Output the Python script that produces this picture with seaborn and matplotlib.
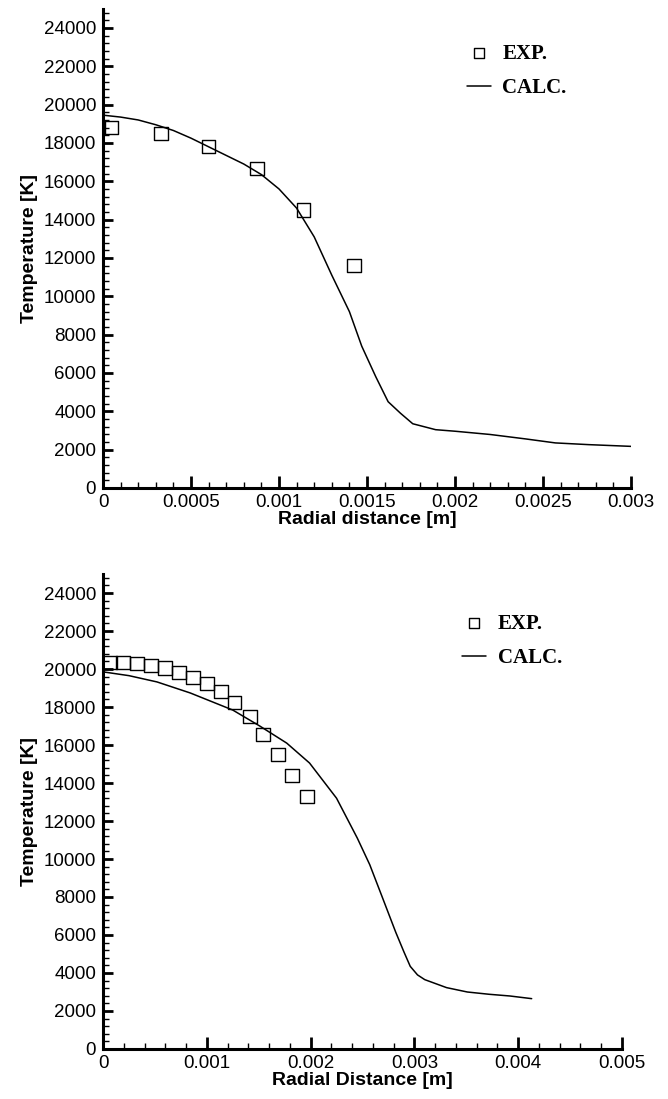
import matplotlib
matplotlib.use("Agg")
import matplotlib.pyplot as plt
from matplotlib.ticker import MultipleLocator, AutoMinorLocator, FuncFormatter
import seaborn as sns

# ---- data ----
# upper panel
exp1_r = [0.00005, 0.00033, 0.00060, 0.000875, 0.00114, 0.001426]
exp1_t = [18800, 18500, 17800, 16650, 14500, 11600]
calc1_r = [0.0, 0.0001, 0.0002, 0.0003, 0.0004, 0.0005, 0.0006, 0.0007, 0.0008,
           0.0009, 0.0010, 0.0011, 0.0012, 0.0013, 0.0014, 0.00147, 0.00155,
           0.00162, 0.00169, 0.00176, 0.00189, 0.0020, 0.0022, 0.0024, 0.00257,
           0.00276, 0.0030]
calc1_t = [19450, 19350, 19200, 18950, 18650, 18250, 17800, 17350, 16900,
           16350, 15600, 14600, 13100, 11100, 9200, 7400, 5800,
           4500, 3900, 3350, 3040, 2960, 2790, 2560, 2350,
           2260, 2170]

# lower panel
exp2_r = [0.000067, 0.000193, 0.000328, 0.000462, 0.000597, 0.000732, 0.000867,
          0.001002, 0.001137, 0.00127, 0.001416, 0.00154, 0.001686, 0.00182,
          0.001965]
exp2_t = [20350, 20350, 20300, 20200, 20050, 19800, 19550, 19250, 18800, 18250,
          17500, 16550, 15500, 14400, 13300]
calc2_r = [0.0, 0.00025, 0.00052, 0.00084, 0.00125, 0.00151, 0.00177, 0.00199,
           0.00225, 0.00245, 0.00257, 0.00269, 0.00282, 0.0029, 0.00296, 0.00303,
           0.0031, 0.00331, 0.00351, 0.00372, 0.00392, 0.00413]
calc2_t = [19850, 19650, 19320, 18740, 17840, 17000, 16100, 15050,
           13200, 11100, 9700, 8000, 6150, 5100, 4350, 3900,
           3650, 3230, 3000, 2880, 2790, 2650]

xlabels = ["Radial distance [m]", "Radial Distance [m]"]
ylabel = "Temperature [K]"
legend_labels = ["EXP.", "CALC."]

sns.set_theme(style="ticks")
plt.rcParams['font.family'] = ['Liberation Sans', 'DejaVu Sans']
plt.rcParams['axes.linewidth'] = 2.2
plt.rcParams['text.color'] = 'black'
plt.rcParams['axes.labelcolor'] = 'black'

fig = plt.figure(figsize=(6.68, 10.99), dpi=100)
ax1 = fig.add_axes([0.1542, 0.5560, 0.7904, 0.4360])
ax2 = fig.add_axes([0.1542, 0.0455, 0.7769, 0.4322])

panels = [
    (ax1, exp1_r, exp1_t, calc1_r, calc1_t, 0.003, 0.0005, xlabels[0], (0.689, 0.927)),
    (ax2, exp2_r, exp2_t, calc2_r, calc2_t, 0.005, 0.001, xlabels[1], (0.692, 0.916)),
]

fmt = FuncFormatter(lambda v, p: "%g" % round(v, 6))

for ax, er, et, cr, ct, xmax, xmaj, xl, leg_xy in panels:
    sns.scatterplot(x=er, y=et, ax=ax, marker='s', s=92, facecolor='none',
                    edgecolor='black', linewidth=1.0, label=legend_labels[0],
                    zorder=3, clip_on=False)
    sns.lineplot(x=cr, y=ct, ax=ax, color='black', linewidth=1.1,
                 label=legend_labels[1], sort=False)

    ax.set_xlim(0, xmax)
    ax.set_ylim(0, 25000)
    ax.yaxis.set_major_locator(MultipleLocator(2000))
    ax.yaxis.set_minor_locator(AutoMinorLocator(5))
    ax.xaxis.set_major_locator(MultipleLocator(xmaj))
    ax.xaxis.set_minor_locator(AutoMinorLocator(5))
    ax.xaxis.set_major_formatter(fmt)
    ax.yaxis.set_major_formatter(FuncFormatter(lambda v, p: "%d" % v))
    ax.tick_params(axis='both', which='major', direction='in', length=7,
                   width=2.0, color='black', labelsize=13.5, labelcolor='black')
    ax.tick_params(axis='x', which='major', length=9)
    ax.tick_params(axis='both', which='minor', direction='in', length=4,
                   width=1.0, color='black')
    ax.tick_params(axis='y', which='major', pad=5)
    ax.tick_params(axis='x', which='major', pad=4)
    for s in ['top', 'right']:
        ax.spines[s].set_visible(False)
    for s in ['left', 'bottom']:
        ax.spines[s].set_color('black')

    ax.set_xlabel(xl, fontsize=14, fontweight='bold', labelpad=0)
    ax.set_ylabel(ylabel, fontsize=14, fontweight='bold', labelpad=4)

    handles, labels = ax.get_legend_handles_labels()
    ax.legend(handles, labels, loc='upper left', bbox_to_anchor=leg_xy,
              frameon=False, borderpad=0, borderaxespad=0, markerscale=0.75,
              handlelength=1.15, handletextpad=0.55, labelspacing=0.68,
              prop={'family': 'Liberation Serif', 'weight': 'bold', 'size': 15})

fig.savefig("out.png", dpi=100, facecolor='white')
